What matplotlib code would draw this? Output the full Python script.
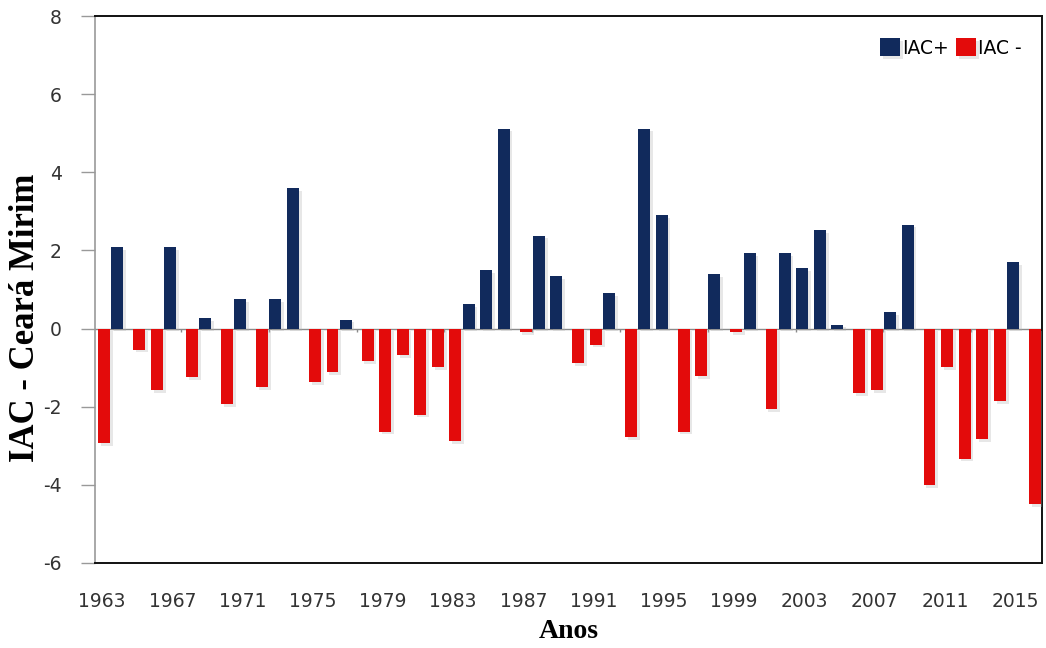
import numpy as np
import matplotlib
matplotlib.use("Agg")
import matplotlib.pyplot as plt
import matplotlib.patheffects as pe

plt.rcParams['axes.unicode_minus'] = False

# IAC values per year
years = list(range(1963, 2017))
iac = [-2.94, 2.08, -0.54, -1.57, 2.08, -1.24, 0.27, -1.93, 0.76, -1.49,
       0.76, 3.60, -1.37, -1.12, 0.23, -0.83, -2.64, -0.68, -2.20, -0.98,
       -2.89, 0.63, 1.49, 5.12, -0.10, 2.38, 1.35, -0.88, -0.41, 0.91,
       -2.77, 5.12, 2.91, -2.64, -1.22, 1.40, -0.10, 1.93, -2.06, 1.93,
       1.54, 2.52, 0.10, -1.65, -1.57, 0.43, 2.66, -4.00, -0.98, -3.33,
       -2.82, -1.86, 1.70, -4.49]

iac = np.array(iac)
iac_pos = np.where(iac > 0, iac, 0.0)
iac_neg = np.where(iac < 0, iac, 0.0)
x = np.arange(len(years))

blue = '#112a5c'
red = '#e30b0b'

fig = plt.figure(figsize=(10.46, 6.48), dpi=100)
ax = fig.add_axes([95/1046, 1 - 563/648, 947/1046, 547/648])

shadow = [pe.SimplePatchShadow(offset=(2, -2), shadow_rgbFace='#b0b0b0', alpha=0.3), pe.Normal()]
w = 0.68
b1 = ax.bar(x - 0.125, iac_pos, width=w, color=blue, label='IAC+', zorder=3)
b2 = ax.bar(x + 0.125, iac_neg, width=w, color=red, label='IAC -', zorder=3)
for p in list(b1) + list(b2):
    p.set_path_effects(shadow)

# zero line with small category ticks
ax.axhline(0, color='#8a8a8a', lw=1, zorder=2)
ax.vlines(np.arange(-0.5, len(years), 5), -0.1, 0, color='#8a8a8a', lw=1, zorder=2)

ax.set_xlim(-0.40, 53.53)
ax.set_ylim(-6, 8)
ax.set_yticks(np.arange(-6, 9, 2))
ax.set_xticks(x[::4])
ax.set_xticklabels([str(y) for y in years[::4]])

ax.tick_params(axis='x', length=0, pad=21, labelsize=13.5, labelcolor='#333333')
ax.tick_params(axis='y', length=10, width=1, color='#999999', pad=14, labelsize=13.5, labelcolor='#333333')

for s in ['top', 'right', 'bottom']:
    ax.spines[s].set_color('#111111')
    ax.spines[s].set_linewidth(1.4)
ax.spines['left'].set_color('#999999')
ax.spines['left'].set_linewidth(1.2)

ax.set_ylabel('IAC - Ceará Mirim', fontfamily='Liberation Serif', fontweight='bold', fontsize=25)
ax.yaxis.set_label_coords(-0.056, 0.448)
ax.set_xlabel('Anos', fontfamily='Liberation Serif', fontweight='bold', fontsize=20, labelpad=6)

ax.legend(loc='center left', bbox_to_anchor=((880 - 95) / 947, (563 - 48) / 547), ncol=2,
          frameon=False, fontsize=13.5, handlelength=1.07, handleheight=1.07,
          handletextpad=0.1, columnspacing=0.4, borderpad=0, borderaxespad=0)

fig.savefig('out.png', dpi=100)
